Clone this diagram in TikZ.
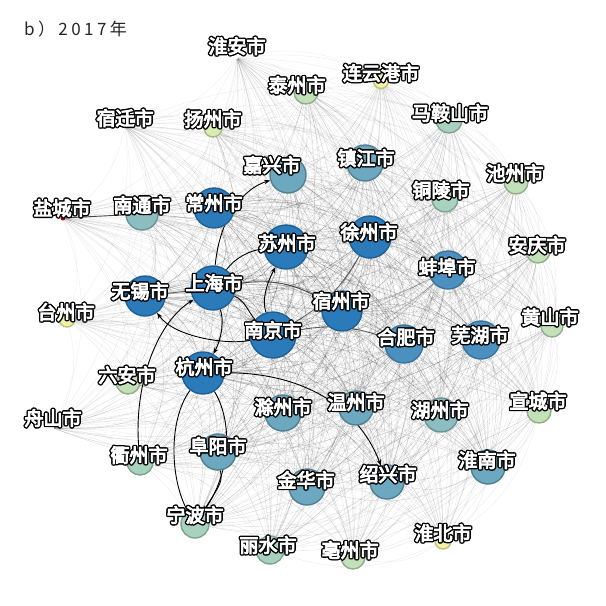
\documentclass[tikz,border=0pt]{standalone}
\usepackage{fontspec}
\newfontfamily\labfont{Noto Sans CJK SC}[FakeBold=5]
\newfontfamily\titfont{Noto Sans CJK SC}[LetterSpace=20]
\usetikzlibrary{arrows.meta}
\pgfdeclarelayer{bg}
\pgfsetlayers{bg,main}
\definecolor{f1}{HTML}{2B7BBA}\definecolor{d1}{HTML}{1F5F91}
\definecolor{f2}{HTML}{4B90BF}\definecolor{d2}{HTML}{3A7398}
\definecolor{f3}{HTML}{6CA8BF}\definecolor{d3}{HTML}{517F90}
\definecolor{f4}{HTML}{8CBEC1}\definecolor{d4}{HTML}{6A9294}
\definecolor{f5}{HTML}{A8D2BE}\definecolor{d5}{HTML}{7FA291}
\definecolor{f6}{HTML}{C3E1B8}\definecolor{d6}{HTML}{93AC8B}
\definecolor{f7}{HTML}{DAECB0}\definecolor{d7}{HTML}{A7B585}
\definecolor{f8}{HTML}{F3F2A6}\definecolor{d8}{HTML}{C0BE7E}
\newcommand\hk[3]{\rlap{\kern#1pt\raisebox{#2pt}{#3}}}
\newcommand\olab[1]{{\color{black}\hk{1.4}{0}{#1}\hk{-1.4}{0}{#1}\hk{0}{1.4}{#1}\hk{0}{-1.4}{#1}\hk{1}{1}{#1}\hk{-1}{1}{#1}\hk{1}{-1}{#1}\hk{-1}{-1}{#1}}\textcolor{white}{#1}}
\def\nodelist{ha/0.25,tz/0.35,lyg/0.25,sq/0.25,yz/0.3,mas/0.4,cz/0.35,jx/0.6,zj/0.6,tl/0.4,yc/0.25,nt/0.5,czh/0.9,aq/0.35,suz/1,xz/0.9,bb/0.75,wx/0.9,sh/1,szh/0.85,taiz/0.25,hs/0.35,nj/1,hf/0.75,wh/0.75,hz/1,la/0.35,chz/0.6,wz/0.6,huz/0.5,xc/0.35,zs/0.25,qz/0.4,fy/0.6,hn/0.6,jh/0.6,sx/0.6,nb/0.45,hb/0.25,ls/0.4,bz/0.35}
\begin{document}
\begin{tikzpicture}[x=1pt,y=-1pt,
  cn/.style={circle,inner sep=0pt,line width=1.4pt},
  c1/.style={cn,fill=f1,draw=d1},c2/.style={cn,fill=f2,draw=d2},
  c3/.style={cn,fill=f3,draw=d3},c4/.style={cn,fill=f4,draw=d4},
  c5/.style={cn,fill=f5,draw=d5},c6/.style={cn,fill=f6,draw=d6},
  c7/.style={cn,fill=f7,draw=d7},c8/.style={cn,fill=f8,draw=d8},
  hid/.style={circle,inner sep=0pt,minimum size=2pt},
  lab/.style={inner sep=0pt,font=\labfont\fontsize{19}{19}\selectfont},
  edge/.style={line width=0.3pt,black},
  dk/.style={line width=0.9pt,black},
  dka/.style={dk,-{Stealth[length=6pt,width=4.5pt]}}]
\useasboundingbox (0,0) rectangle (606,606);
% nodes
\node[c1,minimum size=44] (sh) at (213,288) {};
\node[c1,minimum size=46] (nj) at (273,335) {};
\node[c1,minimum size=44] (suz) at (286,247) {};
\node[c1,minimum size=42] (hz) at (203,373) {};
\node[c1,minimum size=42] (xz) at (370,237) {};
\node[c1,minimum size=40] (czh) at (214,208) {};
\node[c1,minimum size=40] (wx) at (145,296) {};
\node[c1,minimum size=40] (szh) at (342,311) {};
\node[c2,minimum size=38] (hf) at (404,344) {};
\node[c2,minimum size=38] (bb) at (448,270) {};
\node[c2,minimum size=38] (wh) at (481,340) {};
\node[c3,minimum size=36] (jx) at (288,175) {};
\node[c3,minimum size=36] (zj) at (365,163) {};
\node[c3,minimum size=36] (fy) at (218,452) {};
\node[c3,minimum size=36] (chz) at (283,413) {};
\node[c3,minimum size=34] (wz) at (356,408) {};
\node[c3,minimum size=36] (jh) at (307,487) {};
\node[c3,minimum size=34] (sx) at (387,482) {};
\node[c3,minimum size=34] (hn) at (488,467) {};
\node[c4,minimum size=32] (nt) at (142,214) {};
\node[c4,minimum size=34] (huz) at (441,415) {};
\node[c5,minimum size=26] (mas) at (449,120) {};
\node[c5,minimum size=26] (tl) at (445,199) {};
\node[c5,minimum size=28] (nb) at (195,524) {};
\node[c5,minimum size=28] (ls) at (270,550) {};
\node[c5,minimum size=26] (qz) at (140,462) {};
\node[c6,minimum size=24] (tz) at (306,92) {};
\node[c6,minimum size=24] (cz) at (516,182) {};
\node[c6,minimum size=24] (aq) at (538,251) {};
\node[c6,minimum size=24] (la) at (128,382) {};
\node[c6,minimum size=24] (xc) at (539,411) {};
\node[c6,minimum size=22] (hs) at (552,326) {};
\node[c6,minimum size=24] (bz) at (353,557) {};
\node[c7,minimum size=18] (yz) at (213,128) {};
\node[c8,minimum size=15] (lyg) at (381,81) {};
\node[c8,minimum size=16] (taiz) at (67,319) {};
\node[c8,minimum size=16] (hb) at (443,541) {};
\node[hid] (ha) at (237,58) {};
\node[hid] (sq) at (125,126) {};
\node[hid] (zs) at (53,428) {};
\node[circle,inner sep=0pt,minimum size=5pt,fill=red!70!black] (yc) at (63,218) {};
% edges
\begin{pgfonlayer}{bg}
\foreach \a/\wa [count=\i] in \nodelist {
  \foreach \b/\wb [count=\j] in \nodelist {
    \ifnum\j>\i
      \pgfmathsetmacro\op{0.06+0.34*\wa*\wb}
      \draw[edge,opacity=\op] (\a) to[bend left=22] (\b);
    \fi
  }
}
\draw[dk,opacity=0.7] (yc) -- (nt);
\draw[dk,opacity=0.6] (wx) -- (sh);
\draw[dk,opacity=0.7] (sh) to[bend left=20] (szh);
\draw[dk,opacity=0.6] (nj) to[bend left=15] (hf);
\draw[dk,opacity=0.6] (nj) to[bend right=15] (xz);
\draw[dk] (sh) .. controls (245,300) and (250,315) .. (nj);
\draw[dka] (sh) .. controls (220,215) and (245,188) .. (jx);
\draw[dk] (sh) .. controls (235,258) and (250,250) .. (suz);
\draw[dka] (nj) .. controls (262,300) and (266,285) .. (suz);
\draw[dka] (nj) .. controls (230,345) and (175,338) .. (wx);
\draw[dka] (qz) .. controls (133,380) and (160,320) .. (sh);
\draw[dka] (sh) .. controls (224,320) and (222,338) .. (hz);
\draw[dk] (hz) .. controls (168,420) and (170,480) .. (nb);
\draw[dka] (hz) .. controls (232,420) and (232,470) .. (nb);
\draw[dka] (fy) .. controls (222,482) .. (nb);
\draw[dka] (hz) .. controls (300,372) and (358,405) .. (sx);
\end{pgfonlayer}
% labels
\node[lab] (l-ha) at (237,46) {\olab{淮安市}};
\node[lab] (l-tz) at (297,85) {\olab{泰州市}};
\node[lab] (l-lyg) at (381,73) {\olab{连云港市}};
\node[lab] (l-sq) at (125,118) {\olab{宿迁市}};
\node[lab] (l-yz) at (213,119) {\olab{扬州市}};
\node[lab] (l-mas) at (450,113) {\olab{马鞍山市}};
\node[lab] (l-cz) at (515,173) {\olab{池州市}};
\node[lab] (l-jx) at (272,165) {\olab{嘉兴市}};
\node[lab] (l-zj) at (366,158) {\olab{镇江市}};
\node[lab] (l-tl) at (441,190) {\olab{铜陵市}};
\node[lab] (l-yc) at (62,208) {\olab{盐城市}};
\node[lab] (l-nt) at (142,205) {\olab{南通市}};
\node[lab] (l-czh) at (214,203) {\olab{常州市}};
\node[lab] (l-aq) at (537,245) {\olab{安庆市}};
\node[lab] (l-suz) at (287,243) {\olab{苏州市}};
\node[lab] (l-xz) at (369,232) {\olab{徐州市}};
\node[lab] (l-bb) at (447,267) {\olab{蚌埠市}};
\node[lab] (l-wx) at (140,291) {\olab{无锡市}};
\node[lab] (l-sh) at (214,283) {\olab{上海市}};
\node[lab] (l-szh) at (341,301) {\olab{宿州市}};
\node[lab] (l-taiz) at (66,312) {\olab{台州市}};
\node[lab] (l-hs) at (550,317) {\olab{黄山市}};
\node[lab] (l-nj) at (273,330) {\olab{南京市}};
\node[lab] (l-hf) at (406,337) {\olab{合肥市}};
\node[lab] (l-wh) at (480,335) {\olab{芜湖市}};
\node[lab] (l-hz) at (204,367) {\olab{杭州市}};
\node[lab] (l-la) at (127,375) {\olab{六安市}};
\node[lab] (l-chz) at (283,407) {\olab{滁州市}};
\node[lab] (l-wz) at (356,402) {\olab{温州市}};
\node[lab] (l-huz) at (440,410) {\olab{湖州市}};
\node[lab] (l-xc) at (538,401) {\olab{宣城市}};
\node[lab] (l-zs) at (53,418) {\olab{舟山市}};
\node[lab] (l-qz) at (139,455) {\olab{衢州市}};
\node[lab] (l-fy) at (218,446) {\olab{阜阳市}};
\node[lab] (l-hn) at (487,460) {\olab{淮南市}};
\node[lab] (l-jh) at (306,480) {\olab{金华市}};
\node[lab] (l-sx) at (388,474) {\olab{绍兴市}};
\node[lab] (l-nb) at (195,515) {\olab{宁波市}};
\node[lab] (l-hb) at (443,533) {\olab{淮北市}};
\node[lab] (l-ls) at (268,545) {\olab{丽水市}};
\node[lab] (l-bz) at (350,550) {\olab{亳州市}};
% title
\node[inner sep=0pt,anchor=west,font=\titfont\fontsize{17}{17}\selectfont,text=black!85] (title) at (24,29) {b）2017年};
\end{tikzpicture}
\end{document}
